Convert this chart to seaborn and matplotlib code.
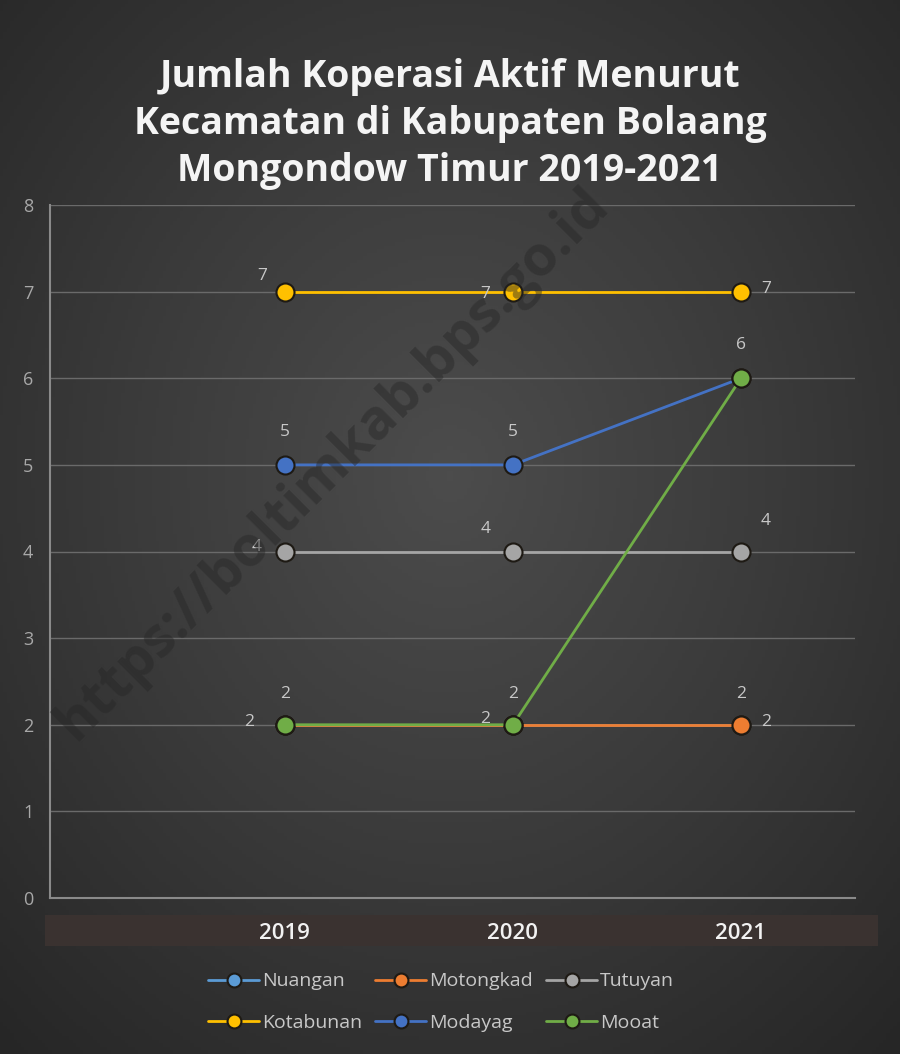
import numpy as np
import pandas as pd
import matplotlib
matplotlib.use("Agg")
import matplotlib.pyplot as plt
import seaborn as sns
from matplotlib.patches import Rectangle

# data
years = ["2019", "2020", "2021"]
kecamatan = ["Nuangan", "Motongkad", "Tutuyan", "Kotabunan", "Modayag", "Mooat"]
nuangan = [2, 2, 2]
motongkad = [2, 2, 2]
tutuyan = [4, 4, 4]
kotabunan = [7, 7, 7]
modayag = [5, 5, 6]
mooat = [2, 2, 6]

series = [nuangan, motongkad, tutuyan, kotabunan, modayag, mooat]
colors = ["#5B9BD5", "#ED7D31", "#A5A5A5", "#FFC000", "#4472C4", "#70AD47"]

rows = []
for name, vals in zip(kecamatan, series):
    for i, v in enumerate(vals):
        rows.append({"Kecamatan": name, "pos": i, "Tahun": years[i], "Jumlah": v})
df = pd.DataFrame(rows)

sns.set_theme(style="dark")
plt.rcParams['font.family'] = ['Open Sans', 'DejaVu Sans']

fig = plt.figure(figsize=(9, 10.54), dpi=100)

# background with a soft radial gradient
bg = fig.add_axes([0, 0, 1, 1], zorder=-10)
yy, xx = np.mgrid[0:1:300j, 0:1:260j]
r = np.sqrt(((xx - 0.5) / 0.75) ** 2 + ((yy - 0.45) / 0.75) ** 2)
bg.imshow(np.clip(r, 0, 1), cmap=matplotlib.colors.LinearSegmentedColormap.from_list(
    "bg", ["#4c4c4c", "#3a3a3a", "#262626"]), aspect="auto", extent=[0, 1, 0, 1])
bg.axis("off")

# category band behind the x labels
fig.patches.append(Rectangle((45 / 900, 1 - 946 / 1054), 833 / 900, 31 / 1054,
                             transform=fig.transFigure, facecolor="#3a3230",
                             edgecolor="none", zorder=-5))

ax = fig.add_axes([50 / 900, 1 - 898 / 1054, 805 / 900, 693 / 1054])
ax.set_facecolor("none")

for name, col in zip(kecamatan, colors):
    sub = df[df["Kecamatan"] == name]
    sns.lineplot(data=sub, x="pos", y="Jumlah", ax=ax, color=col, lw=2,
                 marker="o", markersize=13, markeredgecolor="#1e1a14",
                 markeredgewidth=1.5, label=name, zorder=3)

# data label placement (offsets in points)
offsets = {
    "Nuangan": [(-26, 2), (-20, 4), (0, 22)],
    "Motongkad": [None, None, (18, 2)],
    "Tutuyan": [(-20, 3), (-20, 16), (18, 22)],
    "Kotabunan": [(-16, 11), (-20, -2), (18, 2)],
    "Modayag": [(0, 24), (0, 24), (0, 24)],
    "Mooat": [(0, 22), (0, 22), None],
}
for name, vals in zip(kecamatan, series):
    for i, v in enumerate(vals):
        off = offsets[name][i]
        if off is None:
            continue
        ax.annotate(str(v), (i, v), xytext=off, textcoords="offset points",
                    ha="center", va="center", color="#c8c8c8", fontsize=12.5)

ax.set_xlim(-1.03, 2.5)
ax.set_ylim(0, 8)
ax.set_xticks(range(len(years)))
ax.set_xticklabels(years, color="#f2f2f2", fontsize=16, fontweight="semibold")
ax.tick_params(axis="x", pad=18, length=0)
ax.set_yticks(range(0, 9))
ax.tick_params(axis="y", colors="#a8a8a8", labelsize=13, length=0, pad=12)
ax.grid(axis="y", color="#6a6a6a", lw=1)
ax.grid(axis="x", visible=False)
for side in ["top", "right"]:
    ax.spines[side].set_visible(False)
for side in ["left", "bottom"]:
    ax.spines[side].set_color("#8a8a8a")
    ax.spines[side].set_linewidth(1.5)
ax.set_xlabel("")
ax.set_ylabel("")
ax.get_legend().remove()

# watermark over the plot
fig.text(0.37, 0.56, "https://boltimkab.bps.go.id", rotation=45, fontsize=40,
         fontweight="bold", color="#262626", alpha=0.45, ha="center", va="center",
         zorder=5)

fig.text(0.5, 1 - 124 / 1054,
         "Jumlah Koperasi Aktif Menurut\nKecamatan di Kabupaten Bolaang\nMongondow Timur 2019-2021",
         ha="center", va="center", fontsize=27, fontweight="bold", color="#f4f4f4",
         linespacing=1.3)

handles, labels = ax.get_legend_handles_labels()
order = [0, 3, 1, 4, 2, 5]
leg = fig.legend([handles[i] for i in order], [labels[i] for i in order],
                 ncol=3, loc="center", bbox_to_anchor=(0.49, 1 - 1002 / 1054), frameon=False,
                 fontsize=14, labelcolor="#c8c8c8", handlelength=2.6,
                 handletextpad=0.15, columnspacing=0.7, labelspacing=1.2)
for h in leg.legend_handles:
    h.set_markersize(10)

fig.savefig("out.png", dpi=100)
